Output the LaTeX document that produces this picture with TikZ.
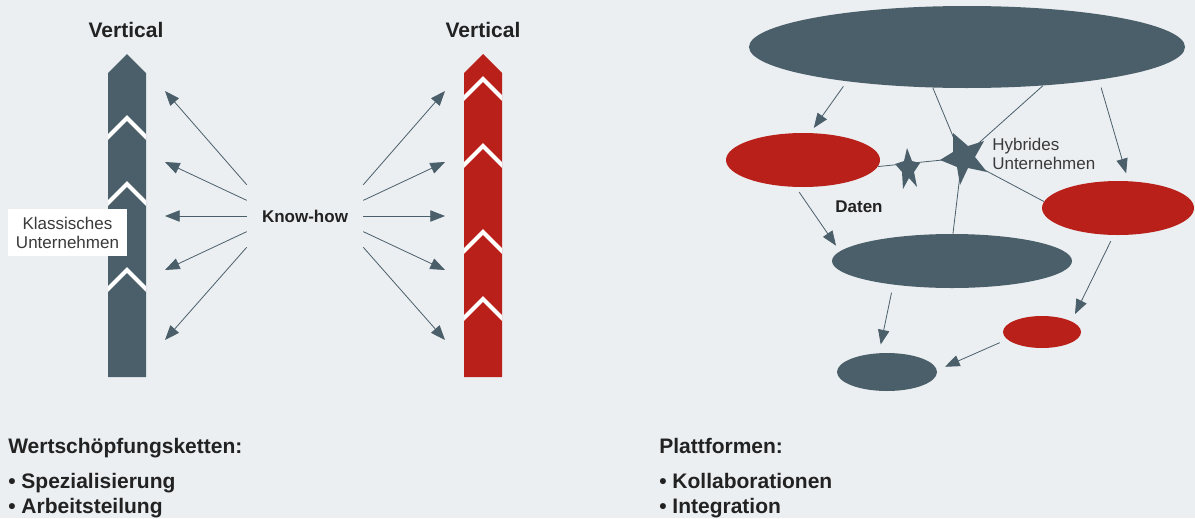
\documentclass[tikz,border=0pt]{standalone}
\usepackage{fontspec}
\setmainfont{Liberation Sans}
\usetikzlibrary{arrows.meta,calc,shapes.geometric}
\definecolor{bg}{HTML}{ECEFF2}
\definecolor{slate}{HTML}{4B5F6A}
\definecolor{brick}{HTML}{B9201A}
\definecolor{ink}{HTML}{222222}
\definecolor{soft}{HTML}{3A3A3A}
\begin{document}
\begin{tikzpicture}[x=0.75pt,y=-0.75pt,
  conn/.style={draw=slate, line width=0.6pt},
  arr/.style={conn, -{Triangle[length=11pt,width=8.5pt]}},
  blob/.style={ellipse, inner sep=0pt, draw=none},
  slateblob/.style={blob, fill=slate},
  redblob/.style={blob, fill=brick},
  head/.style={font=\fontsize{15.75}{18}\selectfont\bfseries, text=ink, inner sep=0pt},
  lbl/.style={font=\fontsize{12.75}{14.25}\selectfont, text=soft, inner sep=0pt},
  boldlbl/.style={font=\fontsize{12.75}{14.25}\selectfont\bfseries, text=ink, inner sep=0pt},
  notch/.style={draw=white, line width=3pt},
]
\fill[bg] (0,0) rectangle (1195,518);
\useasboundingbox (0,0) rectangle (1195,518);

% ---------- left column (classic) ----------
\fill[slate] (108,377) -- (108,73) -- (127,54) -- (146,73) -- (146,377) -- cycle;
\begin{scope}
  \clip (108,0) rectangle (146,400);
  \foreach \t in {118,184,270} \draw[notch] (106,\t+21) -- (127,\t) -- (148,\t+21);
\end{scope}

% ---------- right column (red) ----------
\fill[brick] (464,377) -- (464,73) -- (483,54) -- (502,73) -- (502,377) -- cycle;
\begin{scope}
  \clip (464,0) rectangle (502,400);
  \foreach \t in {79,146,232,299} \draw[notch] (462,\t+21) -- (483,\t) -- (504,\t+21);
\end{scope}

\node[head, anchor=base] (v1) at (126,37) {Vertical};
\node[head, anchor=base] (v2) at (483,37) {Vertical};

\node[lbl, fill=white, minimum width=89.25pt, minimum height=35.25pt, align=center] (kl) at (67.5,232.5) {Klassisches\\Unternehmen};

% ---------- know-how arrows ----------
\node[boldlbl, minimum width=87pt, minimum height=46.5pt] (kh) at (305,216) {Know-how};
\foreach \i/\y in {1/91,2/162,3/216,4/270,5/340} {
  \coordinate (L\i) at (165,\y);
  \coordinate (R\i) at (445,\y);
}
\draw[arr] (kh.north west) -- (L1);
\draw[arr] ($(kh.north west)!0.25!(kh.south west)$) -- (L2);
\draw[arr] (kh.west) -- (L3);
\draw[arr] ($(kh.north west)!0.75!(kh.south west)$) -- (L4);
\draw[arr] (kh.south west) -- (L5);
\draw[arr] (kh.north east) -- (R1);
\draw[arr] ($(kh.north east)!0.25!(kh.south east)$) -- (R2);
\draw[arr] (kh.east) -- (R3);
\draw[arr] ($(kh.north east)!0.75!(kh.south east)$) -- (R4);
\draw[arr] (kh.south east) -- (R5);

% ---------- platform diagram ----------
\node[slateblob, minimum width=327pt, minimum height=61.5pt] (top) at (967,47) {};
\node[redblob, minimum width=115.5pt, minimum height=40.5pt] (redL) at (803,160) {};
\node[redblob, minimum width=114pt, minimum height=40.5pt] (redR) at (1118,208) {};
\node[slateblob, minimum width=180pt, minimum height=40.5pt] (mid) at (952,261) {};
\node[redblob, minimum width=58.5pt, minimum height=24pt] (redS) at (1042,332) {};
\node[slateblob, minimum width=75pt, minimum height=28.5pt] (bot) at (887,372) {};

\coordinate (bs) at (962,158);
\coordinate (ss) at (908,168);

\draw[conn] (top.230) -- (bs);
\draw[conn] (top.333) -- (bs);
\draw[conn] (bs) -- (mid.88);
\draw[conn] (bs) -- (redR.175);
\draw[conn] (redL.355) -- (bs);

\fill[slate, shift={(bs)}] (-9,-25) -- (6,-12) -- (22,-17) -- (13,-1) -- (25,14) -- (6,10) -- (-2,27) -- (-5,9) -- (-22,2) -- (-9,-6) -- cycle;
\fill[slate, shift={(ss)}] (-1,-20) -- (4,-7) -- (12,-5) -- (6,4) -- (9,19) -- (1,10) -- (-5,21) -- (-6,4) -- (-13,-4) -- (-4,-7) -- cycle;

\draw[arr, shorten <=4.5pt, shorten >=4.5pt] (top.196) -- (redL.75);
\draw[arr, shorten <=6pt, shorten >=6pt] (top.346.6) -- (redR.69.5);
\draw[arr, shorten <=4.5pt, shorten >=5pt] (redL.255.4) -- (mid.175);
\draw[arr, shorten <=5pt, shorten >=6pt] (redR.261.6) -- (redS.20.3);
\draw[arr, shorten <=6pt, shorten >=6.5pt] (mid.202.1) -- (bot.113);
\draw[arr, shorten <=6pt, shorten >=6.5pt] (redS.192.9) -- (bot.2.3);

\node[lbl, align=left, anchor=west] (hy) at (992,153.5) {Hybrides\\Unternehmen};
\node[boldlbl] (dt) at (859,207) {Daten};

% ---------- bottom texts ----------
\node[head, anchor=base west] (w0) at (8,453) {Wertschöpfungsketten:};
\node[head, anchor=base west] (w1) at (8,488) {• Spezialisierung};
\node[head, anchor=base west] (w2) at (8,513) {• Arbeitsteilung};
\node[head, anchor=base west] (p0) at (659,453) {Plattformen:};
\node[head, anchor=base west] (p1) at (659,488) {• Kollaborationen};
\node[head, anchor=base west] (p2) at (659,513) {• Integration};
\end{tikzpicture}
\end{document}
